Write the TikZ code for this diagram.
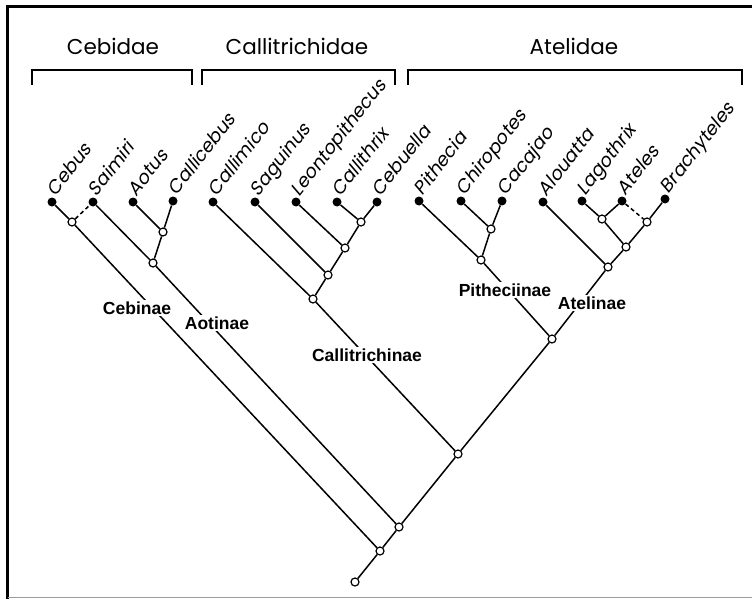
\documentclass[tikz,border=0pt]{standalone}
\usepackage{fontspec}
\setmainfont{Liberation Sans}
\newfontfamily\famfont{Poppins}
\newfontfamily\genfont[FakeSlant=0.2]{Poppins}
\usepackage{tikz}
\usetikzlibrary{positioning}
\definecolor{framegray}{rgb}{0.62,0.62,0.62}
\tikzset{
  leaf/.style={
    circle,
    fill=black,
    inner sep=0pt,
    minimum size=9pt
  },
  junction/.style={
    circle,
    draw=black,
    fill=white,
    line width=1.2pt,
    inner sep=0pt,
    minimum size=8pt
  },
  branch/.style={
    line width=1.5pt
  },
  guess/.style={
    line width=1.5pt,
    dash pattern=on 4pt off 3pt
  },
  genus/.style={
    rotate=52,
    anchor=base west,
    inner sep=0pt,
    inner xsep=6pt,
    font=\genfont\fontsize{18.5}{20}\selectfont
  },
  family/.style={
    anchor=base,
    inner sep=0pt,
    font=\famfont\fontsize{21.5}{24}\selectfont
  },
  subfamily/.style={
    fill=white,
    inner sep=1.5pt,
    font=\bfseries\fontsize{17.5}{20}\selectfont
  },
  bracket/.style={
    line width=1.4pt
  }
}

\begin{document}
\begin{tikzpicture}[x=1pt, y=-1pt]
\useasboundingbox (0,0) rectangle (752,599);
% frame
\draw[line width=3pt] (7.5,599) -- (7.5,6.5) -- (752,6.5);
\draw[framegray, line width=1.5pt] (7.5,597.5) -- (752,597.5);

% families
\node[family] (cebidae) at (113,55) {Cebidae};
\node[family] (callitrichidae) at (297,55) {Callitrichidae};
\node[family] (atelidae) at (574,55) {Atelidae};
\draw[bracket] (32,85) -- (32,70) -- (192,70) -- (192,85);
\draw[bracket] (202,85) -- (202,70) -- (395,70) -- (395,85);
\draw[bracket] (408,85) -- (408,70) -- (742,70) -- (742,85);

% genera
\node[leaf] (Cebus) at (52,202) {};
\node[genus] (Cebus-l) at (Cebus) {Cebus};
\node[leaf] (Saimiri) at (93,202) {};
\node[genus] (Saimiri-l) at (Saimiri) {Saimiri};
\node[leaf] (Aotus) at (133,202) {};
\node[genus] (Aotus-l) at (Aotus) {Aotus};
\node[leaf] (Callicebus) at (173,201) {};
\node[genus] (Callicebus-l) at (Callicebus) {Callicebus};
\node[leaf] (Callimico) at (213,202) {};
\node[genus] (Callimico-l) at (Callimico) {Callimico};
\node[leaf] (Saguinus) at (255,202) {};
\node[genus] (Saguinus-l) at (Saguinus) {Saguinus};
\node[leaf] (Leontopithecus) at (296,202) {};
\node[genus] (Leontopithecus-l) at (Leontopithecus) {Leontopithecus};
\node[leaf] (Callithrix) at (337,202) {};
\node[genus] (Callithrix-l) at (Callithrix) {Callithrix};
\node[leaf] (Cebuella) at (377,202) {};
\node[genus] (Cebuella-l) at (Cebuella) {Cebuella};
\node[leaf] (Pithecia) at (419,201) {};
\node[genus] (Pithecia-l) at (Pithecia) {Pithecia};
\node[leaf] (Chiropotes) at (461,201) {};
\node[genus] (Chiropotes-l) at (Chiropotes) {Chiropotes};
\node[leaf] (Cacajao) at (502,201) {};
\node[genus] (Cacajao-l) at (Cacajao) {Cacajao};
\node[leaf] (Alouatta) at (543,202) {};
\node[genus] (Alouatta-l) at (Alouatta) {Alouatta};
\node[leaf] (Lagothrix) at (582,201) {};
\node[genus] (Lagothrix-l) at (Lagothrix) {Lagothrix};
\node[leaf] (Ateles) at (622,201) {};
\node[genus] (Ateles-l) at (Ateles) {Ateles};
\node[leaf] (Brachyteles) at (665,199) {};
\node[genus] (Brachyteles-l) at (Brachyteles) {Brachyteles};

% junctions
\node[junction] (cs) at (72,222) {};
\node[junction] (ac) at (163,232) {};
\node[junction] (sac) at (153,263) {};
\node[junction] (cc) at (361,222) {};
\node[junction] (lcc) at (345,248) {};
\node[junction] (slcc) at (328,275) {};
\node[junction] (calli) at (313,299) {};
\node[junction] (chc) at (491,229) {};
\node[junction] (pith) at (481,260) {};
\node[junction] (la) at (602,219) {};
\node[junction] (ab) at (647,222) {};
\node[junction] (lab) at (626,247) {};
\node[junction] (alab) at (608,267) {};
\node[junction] (atelid) at (552,339) {};
\node[junction] (platy) at (458,454) {};
\node[junction] (aot) at (399,527) {};
\node[junction] (ceb) at (380,551) {};
\node[junction] (root) at (355,582) {};

% branches
\draw[branch] (Cebus) -- (cs) -- (ceb);
\draw[guess] (cs) -- (Saimiri);
\draw[branch] (Saimiri) -- (sac) -- (aot);
\draw[branch] (Aotus) -- (ac) -- (sac);
\draw[branch] (Callicebus) -- (ac);
\draw[branch] (Callimico) -- (calli) -- (platy);
\draw[branch] (Saguinus) -- (slcc);
\draw[branch] (Leontopithecus) -- (lcc);
\draw[branch] (Callithrix) -- (cc);
\draw[branch] (Cebuella) -- (cc) -- (lcc) -- (slcc) -- (calli);
\draw[branch] (Pithecia) -- (pith) -- (atelid);
\draw[branch] (Chiropotes) -- (chc);
\draw[branch] (Cacajao) -- (chc) -- (pith);
\draw[branch] (Alouatta) -- (alab);
\draw[branch] (Lagothrix) -- (la) -- (lab);
\draw[branch] (Ateles) -- (la);
\draw[guess] (Ateles) -- (ab);
\draw[branch] (Brachyteles) -- (ab) -- (lab) -- (alab) -- (atelid) -- (platy) -- (aot) -- (ceb) -- (root);

% subfamilies
\node[subfamily] (cebinae) at (137,308) {Cebinae};
\node[subfamily] (aotinae) at (217,323) {Aotinae};
\node[subfamily] (callitrichinae) at (367,355) {Callitrichinae};
\node[subfamily] (pitheciinae) at (505,290) {Pitheciinae};
\node[subfamily] (atelinae) at (592,303) {Atelinae};
\end{tikzpicture}
\end{document}
